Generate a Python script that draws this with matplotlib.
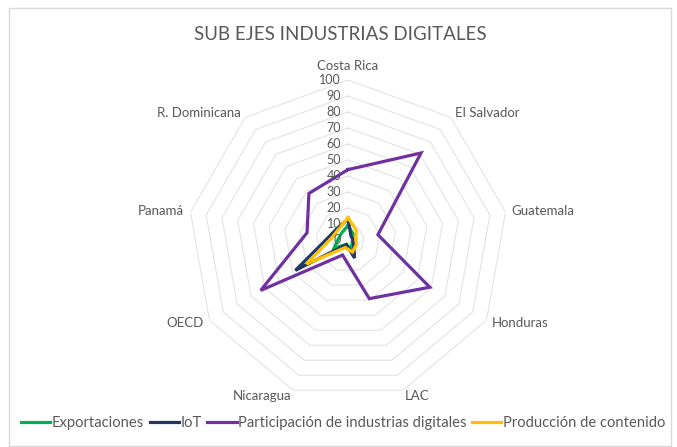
import numpy as np
import matplotlib
matplotlib.use("Agg")
import matplotlib.pyplot as plt
from matplotlib.patches import Rectangle
from matplotlib.transforms import offset_copy

plt.rcParams['font.family'] = ['Lato', 'DejaVu Sans']

# categorias (sentido horario desde arriba)
paises = ['Costa Rica', 'El Salvador', 'Guatemala', 'Honduras', 'LAC',
          'Nicaragua', 'OECD', 'Panamá', 'R. Dominicana']

exportaciones = [9, 5, 3, 3, 6, 3, 10, 6, 6]
iot = [13, 3, 3, 4, 12, 3, 38, 12, 10]
participacion = [44, 71, 19, 59, 39, 10, 63, 26, 38]
produccion = [14, 8, 5, 6, 8, 5, 30, 10, 9]

series = [
    ('Exportaciones', exportaciones, '#00b050'),
    ('IoT', iot, '#203864'),
    ('Participación de industrias digitales', participacion, '#7030a0'),
    ('Producción de contenido', produccion, '#ffc000'),
]
niveles = list(range(0, 101, 10))

W, H = 677, 447
fig = plt.figure(figsize=(W / 100, H / 100), dpi=100)

# marco del grafico
fig.patches.append(Rectangle((9 / W, 1 - 446 / H), 662 / W, 438 / H,
                             transform=fig.transFigure, fill=False,
                             edgecolor='#d9d9d9', linewidth=1))

cx, cy, rad = 348, 240, 160
ax = fig.add_axes([(cx - rad) / W, 1 - (cy + rad) / H, 2 * rad / W, 2 * rad / H],
                  projection='polar')
ax.set_theta_offset(np.pi / 2)
ax.set_theta_direction(-1)
ax.set_ylim(0, 100)
ax.grid(False)
ax.spines['polar'].set_visible(False)
ax.set_xticks([])
ax.set_yticks([])
ax.patch.set_alpha(0)

n = len(paises)
ang = np.linspace(0, 2 * np.pi, n, endpoint=False)
ang_c = np.append(ang, ang[0])

# rejilla poligonal
for v in niveles[1:]:
    ax.plot(ang_c, [v] * (n + 1), color='#e3e3e3', lw=0.8, zorder=1)

for nombre, vals, col in series:
    ax.plot(ang_c, vals + vals[:1], color=col, lw=2.3, label=nombre, zorder=3,
            solid_joinstyle='miter')

# etiquetas del eje radial
tr = offset_copy(ax.transData, fig=fig, x=-7, y=0, units='dots')
for v in niveles:
    ax.text(0, v, str(v), transform=tr, ha='right', va='center',
            fontsize=9, color='#595959', zorder=4)

# etiquetas de categorias
for a, p in zip(ang, paises):
    s = np.sin(a)
    if abs(s) < 0.1:
        ha, va, r = 'center', 'bottom', 105
    else:
        ha = 'left' if s > 0 else 'right'
        va, r = 'center', 104
    ax.text(a, r, p, ha=ha, va=va, fontsize=9.5, color='#595959')

fig.text(0.503, 1 - 35 / H, 'SUB EJES INDUSTRIAS DIGITALES', ha='center',
         va='center', fontsize=13.5, color='#595959')

fig.legend(loc='center', bbox_to_anchor=(0.507, 1 - 423 / H), ncol=4,
           frameon=False, fontsize=10.6, handlelength=2.0, handletextpad=0.12,
           columnspacing=0.35, labelcolor='#595959')

fig.savefig('out.png', dpi=100)
